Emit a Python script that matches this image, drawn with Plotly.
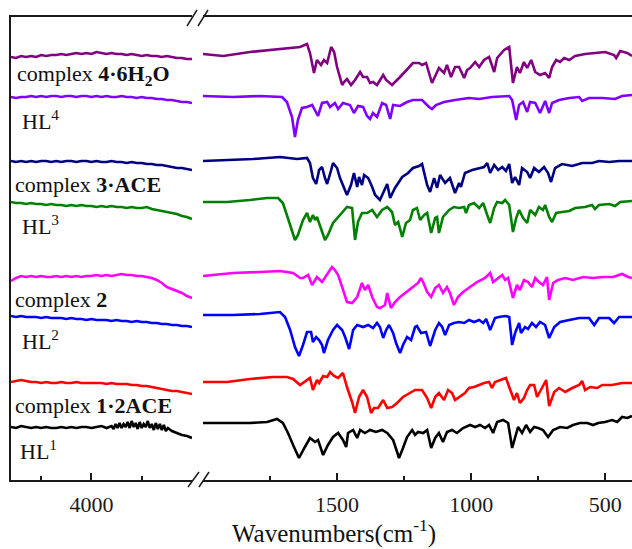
import plotly.graph_objects as go

# ---------------- data (a.u., traces stacked with offsets) ----------------
left_wn = [4400, 4375, 4350, 4325, 4300, 4275, 4250, 4225, 4200, 4175, 4150, 4125, 4100,
           4075, 4050, 4025, 4000, 3975, 3950, 3925, 3900, 3875, 3850, 3825, 3800, 3775,
           3750, 3725, 3700, 3675, 3650, 3625, 3600, 3575, 3550, 3525, 3500]

# complex 4·6H2O
c4_left = [443, 442, 444, 443, 444, 443, 445, 444, 445, 445, 446, 445, 446, 447, 446, 447, 446,
           448, 447, 446, 447, 446, 446, 445, 446, 445, 444, 445, 444, 444, 443, 444, 443, 442,
           442, 441, 441]
c4_wn = [2000, 1925, 1825, 1724, 1638, 1612, 1601, 1586, 1575, 1560, 1549, 1537, 1522, 1511, 1500,
         1481, 1474, 1463, 1448, 1433, 1414, 1403, 1388, 1377, 1366, 1351, 1328, 1317, 1295, 1265,
         1235, 1217, 1194, 1183, 1168, 1146, 1120, 1101, 1090, 1075, 1060, 1045, 1026, 1015, 1004,
         985, 970, 952, 933, 914, 903, 877, 858, 844, 829, 818, 803, 791, 776, 761, 743, 724, 709,
         698, 683, 668, 653, 634, 612, 575, 538, 500, 467, 459, 444, 418, 400]
c4_right = [446, 444, 448, 451, 453, 456, 447, 427, 440, 435, 440, 437, 453, 448, 433, 415, 418,
            421, 415, 420, 428, 423, 423, 417, 418, 415, 425, 420, 415, 423, 432, 437, 437, 435,
            437, 417, 432, 427, 435, 423, 433, 433, 422, 430, 432, 438, 433, 440, 443, 428, 442,
            450, 453, 417, 433, 427, 438, 432, 440, 428, 425, 427, 422, 433, 440, 438, 442, 440,
            444, 446, 447, 448, 445, 442, 449, 447, 444]

# HL4
hl4_left = [403, 402, 403, 403, 404, 403, 404, 403, 404, 404, 403, 404, 404, 403, 404, 404, 403,
            404, 403, 404, 403, 403, 404, 403, 403, 402, 403, 402, 402, 401, 401, 400, 400, 399,
            398, 398, 397]
hl4_wn = [2000, 1888, 1787, 1705, 1687, 1668, 1657, 1646, 1631, 1612, 1593, 1582, 1571, 1556, 1537,
          1526, 1508, 1496, 1478, 1452, 1437, 1422, 1403, 1388, 1377, 1366, 1351, 1332, 1317, 1302,
          1291, 1265, 1239, 1217, 1183, 1157, 1146, 1131, 1101, 1060, 1008, 970, 922, 858, 847,
          832, 821, 806, 791, 780, 761, 743, 724, 709, 698, 672, 634, 597, 586, 560, 511, 463, 437,
          400]
hl4_right = [404, 403, 404, 403, 398, 383, 363, 380, 392, 393, 395, 390, 384, 397, 398, 393, 397,
             391, 397, 395, 387, 394, 393, 384, 381, 387, 383, 397, 395, 381, 395, 394, 398, 400,
             400, 393, 391, 395, 398, 400, 402, 401, 403, 404, 400, 380, 395, 398, 388, 398, 397,
             387, 399, 387, 397, 400, 402, 403, 399, 402, 402, 401, 404, 405]

# complex 3·ACE
c3_left = [339, 338, 339, 338, 339, 338, 339, 339, 338, 339, 338, 339, 339, 338, 339, 339, 338,
           339, 338, 338, 339, 338, 338, 337, 338, 337, 337, 336, 336, 335, 335, 334, 333, 332,
           332, 331, 330]
c3_wn = [2000, 1910, 1813, 1713, 1649, 1612, 1601, 1590, 1578, 1567, 1556, 1545, 1537, 1522, 1515,
         1500, 1489, 1463, 1448, 1437, 1425, 1418, 1407, 1399, 1384, 1369, 1358, 1340, 1328, 1313,
         1302, 1284, 1257, 1235, 1217, 1194, 1183, 1164, 1153, 1138, 1127, 1116, 1097, 1079, 1060,
         1045, 1038, 1023, 996, 970, 952, 940, 929, 914, 899, 884, 870, 858, 847, 836, 821, 810,
         791, 780, 765, 747, 728, 713, 702, 687, 661, 623, 586, 549, 523, 485, 448, 400]
c3_right = [339, 340, 341, 343, 341, 342, 337, 322, 316, 330, 333, 322, 316, 330, 337, 332, 322,
            305, 315, 327, 313, 323, 315, 325, 322, 313, 305, 300, 308, 316, 302, 312, 323, 327,
            332, 334, 336, 315, 308, 322, 312, 325, 317, 322, 307, 317, 313, 327, 330, 332, 333,
            337, 327, 335, 330, 333, 329, 336, 317, 323, 315, 332, 328, 322, 332, 328, 333, 327,
            318, 332, 336, 334, 337, 337, 339, 338, 339, 339]

# HL3
hl3_left = [298, 297, 297, 296, 297, 296, 296, 295, 296, 295, 295, 294, 295, 294, 295, 294, 294,
            293, 294, 293, 294, 293, 293, 292, 293, 292, 292, 293, 291, 290, 289, 288, 287, 286,
            284, 283, 281]
hl3_wn = [2000, 1910, 1825, 1761, 1720, 1702, 1675, 1657, 1646, 1627, 1612, 1601, 1590, 1582, 1575,
          1564, 1545, 1534, 1515, 1489, 1463, 1444, 1433, 1422, 1407, 1388, 1369, 1351, 1332, 1313,
          1295, 1284, 1272, 1257, 1243, 1228, 1217, 1202, 1190, 1175, 1164, 1149, 1134, 1127, 1120,
          1105, 1082, 1064, 1045, 1026, 1019, 1008, 989, 970, 955, 940, 929, 914, 903, 884, 873,
          858, 844, 832, 821, 806, 791, 780, 761, 747, 732, 724, 709, 698, 683, 661, 634, 612, 575,
          549, 538, 523, 485, 463, 444, 400]
hl3_right = [298, 298, 300, 302, 302, 297, 275, 260, 265, 280, 287, 278, 285, 280, 283, 275, 260,
             265, 277, 285, 293, 292, 260, 278, 287, 287, 290, 283, 290, 293, 288, 275, 278, 263,
             277, 280, 290, 292, 280, 285, 287, 267, 282, 283, 267, 283, 290, 293, 292, 293, 287,
             295, 297, 292, 297, 285, 277, 292, 298, 297, 300, 295, 268, 282, 290, 282, 277, 290,
             285, 293, 290, 295, 283, 278, 287, 288, 289, 292, 293, 295, 291, 295, 296, 294, 298,
             299]

# complex 2
c2_left = [219, 222, 224, 223, 224, 223, 224, 223, 223, 224, 223, 224, 223, 224, 223, 224, 224,
           225, 224, 225, 224, 225, 226, 225, 225, 224, 224, 223, 222, 220, 217, 213, 211, 209,
           207, 204, 202]
c2_wn = [2000, 1888, 1787, 1713, 1664, 1638, 1627, 1608, 1593, 1575, 1556, 1541, 1519, 1508, 1496,
         1481, 1463, 1444, 1425, 1407, 1396, 1384, 1369, 1351, 1340, 1321, 1313, 1299, 1284, 1265,
         1239, 1217, 1198, 1187, 1179, 1164, 1149, 1134, 1120, 1105, 1090, 1079, 1064, 1049, 1030,
         1004, 978, 948, 929, 918, 899, 884, 873, 862, 844, 829, 818, 803, 788, 773, 761, 747, 732,
         717, 709, 694, 676, 649, 620, 582, 545, 508, 470, 437, 414, 400]
c2_right = [224, 227, 228, 229, 227, 222, 222, 225, 215, 223, 218, 224, 233, 230, 225, 213, 198,
            197, 203, 217, 210, 215, 203, 193, 192, 195, 207, 192, 198, 203, 208, 213, 217, 222,
            218, 208, 203, 212, 215, 207, 213, 207, 195, 203, 208, 213, 218, 222, 227, 218, 222,
            225, 220, 222, 202, 215, 210, 220, 218, 213, 222, 218, 215, 223, 200, 217, 220, 222,
            220, 223, 222, 223, 223, 226, 223, 222]

# HL2
hl2_left = [184, 183, 184, 183, 183, 183, 182, 183, 182, 182, 182, 181, 182, 181, 181, 180, 181,
            180, 180, 180, 179, 180, 179, 179, 178, 179, 178, 178, 177, 177, 176, 176, 175, 175,
            174, 174, 173]
hl2_wn = [2000, 1888, 1787, 1713, 1694, 1675, 1657, 1642, 1627, 1612, 1597, 1590, 1578, 1567, 1556,
          1549, 1534, 1515, 1500, 1481, 1470, 1455, 1440, 1425, 1403, 1384, 1366, 1351, 1340, 1328,
          1317, 1306, 1291, 1280, 1265, 1254, 1239, 1224, 1209, 1202, 1187, 1168, 1153, 1134, 1120,
          1108, 1097, 1082, 1064, 1045, 1026, 1008, 989, 970, 955, 944, 929, 911, 896, 873, 858,
          847, 836, 821, 814, 799, 788, 773, 758, 743, 724, 709, 690, 668, 634, 597, 560, 541, 523,
          485, 467, 448, 400]
hl2_right = [185, 185, 186, 188, 183, 170, 153, 144, 155, 168, 168, 158, 163, 160, 155, 147, 160,
             170, 175, 170, 163, 151, 170, 175, 173, 175, 172, 177, 173, 162, 170, 175, 167, 157,
             147, 155, 163, 160, 173, 174, 167, 168, 154, 170, 177, 173, 165, 175, 177, 178, 177,
             180, 178, 180, 177, 181, 170, 182, 183, 184, 183, 155, 167, 177, 167, 173, 171, 177,
             173, 178, 175, 162, 173, 178, 180, 182, 182, 175, 182, 182, 177, 183, 183]

# complex 1·2ACE
c1_left = [118, 119, 120, 119, 118, 118, 117, 118, 117, 117, 118, 117, 117, 118, 117, 117, 117,
           117, 117, 116, 117, 116, 116, 116, 115, 115, 114, 114, 113, 112, 111, 110, 109, 109,
           108, 107, 106]
c1_wn = [2000, 1910, 1825, 1739, 1687, 1664, 1638, 1620, 1601, 1590, 1575, 1567, 1552, 1537, 1526,
         1511, 1496, 1478, 1463, 1444, 1433, 1418, 1403, 1388, 1373, 1362, 1347, 1328, 1313, 1295,
         1276, 1254, 1228, 1209, 1183, 1164, 1149, 1134, 1120, 1101, 1086, 1071, 1060, 1041, 1023,
         1008, 989, 970, 952, 933, 922, 911, 892, 870, 858, 840, 829, 818, 803, 791, 780, 765, 754,
         735, 720, 709, 690, 672, 649, 623, 597, 586, 575, 556, 530, 511, 474, 437, 400]
c1_right = [118, 118, 121, 123, 123, 121, 115, 118, 122, 110, 120, 117, 124, 123, 128, 124, 122,
            127, 113, 98, 87, 103, 110, 103, 87, 92, 92, 100, 92, 93, 97, 103, 107, 110, 110, 102,
            92, 103, 107, 100, 110, 107, 100, 104, 107, 112, 113, 115, 117, 118, 112, 118, 120, 122,
            113, 100, 107, 97, 102, 110, 115, 115, 103, 113, 120, 94, 108, 112, 108, 112, 115, 119,
            110, 113, 112, 115, 115, 117, 117]

# HL1
hl1_left_wn = [4400, 4375, 4350, 4325, 4300, 4275, 4250, 4225, 4200, 4175, 4150, 4125, 4100, 4075,
               4050, 4025, 4000, 3975, 3950, 3925, 3900, 3890, 3880, 3870, 3860, 3850, 3840, 3830,
               3820, 3810, 3800, 3790, 3780, 3770, 3760, 3750, 3740, 3730, 3720, 3710, 3700, 3690,
               3680, 3670, 3660, 3650, 3640, 3630, 3620, 3600, 3575, 3550, 3525, 3500]
hl1_left = [73, 72, 74, 73, 72, 73, 72, 73, 72, 72, 73, 72, 73, 72, 73, 73, 72, 73, 74, 72, 74,
            71, 76, 72, 77, 72, 76, 73, 78, 72, 79, 73, 77, 71, 78, 72, 76, 73, 79, 72, 76, 70, 77,
            71, 76, 70, 75, 69, 72, 69, 67, 65, 64, 62]
hl1_wn = [2000, 1910, 1825, 1761, 1724, 1702, 1683, 1664, 1642, 1620, 1601, 1582, 1571, 1552, 1534,
          1515, 1496, 1478, 1466, 1459, 1440, 1425, 1414, 1396, 1377, 1355, 1332, 1313, 1291, 1276,
          1269, 1254, 1239, 1220, 1209, 1198, 1179, 1164, 1149, 1134, 1120, 1105, 1090, 1071, 1053,
          1030, 1004, 985, 967, 948, 933, 918, 903, 881, 862, 847, 836, 825, 810, 795, 780, 765,
          750, 732, 713, 694, 668, 642, 620, 594, 567, 545, 526, 500, 474, 455, 437, 418, 400]
hl1_right = [77, 77, 77, 78, 81, 77, 67, 55, 42, 53, 62, 58, 60, 45, 55, 63, 67, 60, 53, 67, 70,
             62, 70, 67, 70, 68, 70, 67, 60, 48, 42, 52, 63, 70, 65, 68, 67, 70, 52, 62, 67, 58,
             68, 70, 67, 72, 75, 73, 75, 72, 75, 67, 78, 80, 77, 52, 63, 73, 67, 75, 68, 73, 72,
             70, 63, 70, 73, 72, 75, 77, 77, 75, 77, 78, 80, 78, 83, 82, 84]

left_major_ticks = [4000]
left_minor_ticks = [4250, 3750]
right_major_ticks = [1500, 1000, 500]
right_minor_ticks = [1750, 1250, 750]

series = [
    ("complex 4·6H2O", left_wn, c4_left, c4_wn, c4_right),
    ("HL4", left_wn, hl4_left, hl4_wn, hl4_right),
    ("complex 3·ACE", left_wn, c3_left, c3_wn, c3_right),
    ("HL3", left_wn, hl3_left, hl3_wn, hl3_right),
    ("complex 2", left_wn, c2_left, c2_wn, c2_right),
    ("HL2", left_wn, hl2_left, hl2_wn, hl2_right),
    ("complex 1·2ACE", left_wn, c1_left, c1_wn, c1_right),
    ("HL1", hl1_left_wn, hl1_left, hl1_wn, hl1_right),
]
colors = ["#800080", "#8000ff", "#000080", "#008000", "#ff00ff", "#0000ff", "#ff0000", "#000000"]

fig = go.Figure()
for (name, lwn, lv, rwn, rv), col in zip(series, colors):
    fig.add_trace(go.Scatter(x=lwn, y=lv, mode="lines", name=name,
                             line=dict(color=col, width=2.6), xaxis="x", yaxis="y"))
    fig.add_trace(go.Scatter(x=rwn, y=rv, mode="lines", name=name, showlegend=False,
                             line=dict(color=col, width=2.6), xaxis="x2", yaxis="y"))

# ---------------- layout ----------------
W, H = 632, 549
ml, mr, mt, mb = 11, 0, 17, 69
pw, ph = W - ml - mr, H - mt - mb

def px(x):
    return (x - ml) / pw

def py(y):
    return (H - mb - y) / ph

font_family = "Liberation Serif, Times New Roman, serif"
axis_common = dict(showline=True, linecolor="#1a1a1a", linewidth=1.6, mirror=True,
                   ticks="inside", ticklen=7, tickwidth=1.5, tickcolor="#1a1a1a",
                   showgrid=False, zeroline=False,
                   tickfont=dict(family=font_family, size=22, color="#1a1a1a"),
                   ticklabelstandoff=4)

fig.update_layout(
    width=W, height=H,
    margin=dict(l=ml, r=mr, t=mt, b=mb),
    paper_bgcolor="white", plot_bgcolor="white",
    showlegend=False,
    xaxis=dict(domain=[0, px(192)], range=[4400, 3500], tickmode="array",
               tickvals=left_major_ticks, ticktext=[str(v) for v in left_major_ticks],
               minor=dict(tickmode="array", tickvals=left_minor_ticks, ticks="inside",
                          ticklen=4, tickwidth=1.5, tickcolor="#1a1a1a"),
               anchor="y", **axis_common),
    xaxis2=dict(domain=[px(203), 1], range=[2000, 400], tickmode="array",
                tickvals=right_major_ticks, ticktext=[str(v) for v in right_major_ticks],
                minor=dict(tickmode="array", tickvals=right_minor_ticks, ticks="inside",
                           ticklen=4, tickwidth=1.5, tickcolor="#1a1a1a"),
                anchor="y", **axis_common),
    yaxis=dict(range=[20, 483], showline=True, linecolor="#1a1a1a", linewidth=1.6,
               mirror=False, showticklabels=False, ticks="", showgrid=False, zeroline=False),
)

# axis break marks
for (x0, y0, x1, y1) in [(187, 26, 197, 10), (198, 26, 208, 10),
                         (188, 487, 199, 472), (199, 487, 209, 472)]:
    fig.add_shape(type="line", xref="paper", yref="paper",
                  x0=px(x0), y0=py(y0), x1=px(x1), y1=py(y1),
                  line=dict(color="#1a1a1a", width=1.5))

labels = [
    ("complex <b>4·6H<sub>2</sub>O</b>", 15, 75),
    ("HL<sup>4</sup>", 20, 120),
    ("complex <b>3·ACE</b>", 13, 184),
    ("HL<sup>3</sup>", 20, 225),
    ("complex <b>2</b>", 13, 300),
    ("HL<sup>2</sup>", 20, 340),
    ("complex <b>1·2ACE</b>", 13, 405),
    ("HL<sup>1</sup>", 18, 450),
]
for text, lx, ly in labels:
    fig.add_annotation(text=text, xref="paper", yref="paper", x=px(lx), y=py(ly),
                       xanchor="left", yanchor="middle", showarrow=False,
                       font=dict(family=font_family, size=22, color="#111111"))

fig.add_annotation(text="Wavenumbers(cm<sup>-1</sup>)", xref="paper", yref="paper",
                   x=px(334), y=py(531), xanchor="center", yanchor="middle", showarrow=False,
                   font=dict(family=font_family, size=25, color="#111111"))

fig.write_html("out.html", config={"displayModeBar": False},
               post_script="document.body.style.margin='0';document.body.style.padding='0';")
